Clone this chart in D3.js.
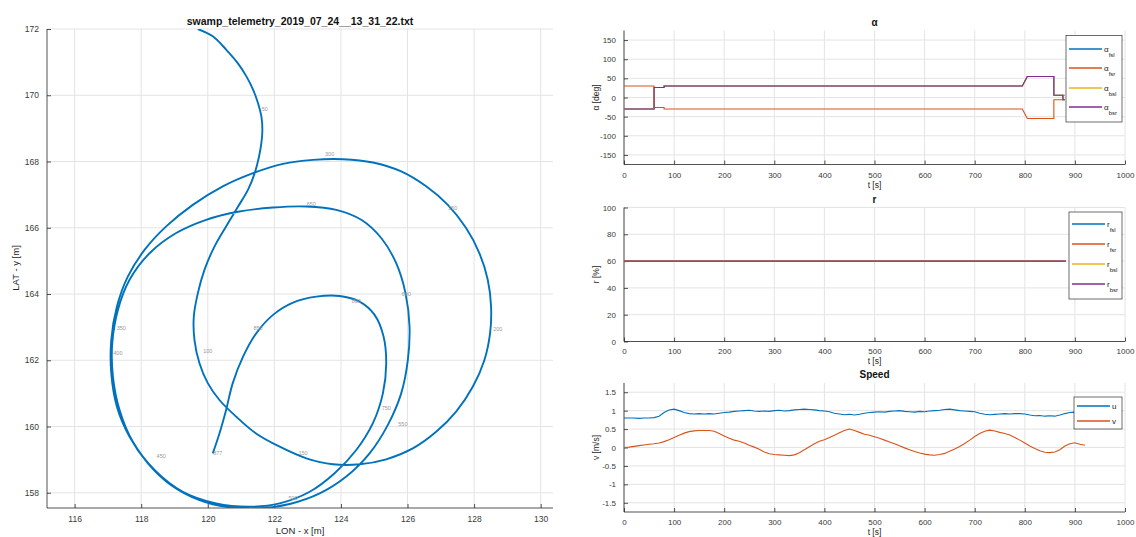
<!DOCTYPE html>
<html>
<head>
<meta charset="utf-8">
<script src="https://cdn.jsdelivr.net/npm/d3@7"></script>
<style>
html, body { margin: 0; padding: 0; background: #fff; }
svg { display: block; font-family: "Liberation Sans", Arial, Helvetica, sans-serif; }
</style>
</head>
<body>
<svg id="fig" width="1136" height="537"></svg>
<script>
// ---- Trajectory (local metric frame) ----
const trajX = [119.70,120.15,120.55,120.90,121.16,121.36,121.51,121.61,121.64,121.61,121.54,121.41,121.21,120.91,120.55,120.20,119.90,119.70,119.58,119.60,119.75,120.00,120.35,120.85,121.45,122.16,122.96,123.76,124.56,125.36,126.16,126.86,127.46,127.96,128.31,128.48,128.51,128.41,128.16,127.76,127.21,126.56,125.81,124.96,124.06,123.16,122.26,121.36,120.45,119.55,118.75,118.10,117.60,117.27,117.10,117.10,117.27,117.65,118.20,118.90,119.75,120.65,121.56,122.46,123.36,124.16,124.86,125.41,125.81,126.01,126.06,125.94,125.66,125.21,124.61,123.86,122.96,121.96,120.95,119.95,119.05,118.25,117.65,117.30,117.13,117.15,117.35,117.75,118.40,119.25,120.25,121.26,122.16,123.06,123.81,124.46,124.96,125.26,125.36,125.28,125.01,124.56,123.96,123.26,122.56,121.96,121.46,121.06,120.75,120.55,120.35,120.15];
const trajY = [172.00,171.78,171.38,170.97,170.57,170.17,169.76,169.36,168.96,168.56,168.15,167.65,167.15,166.64,166.04,165.43,164.73,164.02,163.32,162.61,161.91,161.31,160.80,160.30,159.79,159.39,159.04,158.86,158.86,159.01,159.34,159.84,160.45,161.20,162.01,162.82,163.62,164.43,165.23,165.99,166.69,167.25,167.70,167.97,168.07,168.05,167.93,167.65,167.25,166.69,166.04,165.33,164.53,163.62,162.61,161.61,160.60,159.69,158.89,158.23,157.78,157.56,157.53,157.66,157.98,158.49,159.19,160.05,161.00,162.01,163.02,164.02,164.93,165.69,166.24,166.54,166.64,166.61,166.49,166.24,165.84,165.23,164.43,163.52,162.51,161.51,160.50,159.54,158.69,158.03,157.68,157.58,157.68,158.03,158.59,159.29,160.10,161.00,161.91,162.72,163.37,163.77,163.94,163.92,163.74,163.37,162.82,162.11,161.31,160.50,159.79,159.19];

// time stamps written along the track
const stampX = [121.71,120.00,122.86,128.71,127.36,123.66,117.40,117.30,118.60,122.56,125.86,125.96,123.11,125.36,124.46,121.51,120.30];
const stampY = [169.56,162.26,159.19,162.92,166.59,168.20,162.97,162.21,159.09,157.83,160.05,163.97,166.69,160.55,163.77,162.97,159.19];
const stampText = ["50","100","150","200","250","300","350","400","450","500","550","600","650","750","800","850","877"];

const mapXTicks = [116,118,120,122,124,126,128,130];
const mapYTicks = [158,160,162,164,166,168,170,172];

// ---- Thruster angles [deg] ----
const alphaTime = [0, 60, 60, 80, 80, 795, 805, 858, 858, 876, 876, 880];
const alphaFsl  = [-30,-30, 26, 26, 30, 30, 55, 55, 6, 6, -6, -6];
const alphaFsr  = [ 30, 30,-26,-26,-30,-30,-55,-55,-6,-6, 6, 6];
const alphaBsl  = [-30,-30, 26, 26, 30, 30, 55, 55, 6, 6, -6, -6];
const alphaBsr  = [-30,-30, 26, 26, 30, 30, 55, 55, 6, 6, -6, -6];

// ---- Thruster throttle [%] ----
const thrTime = [0, 882];
const rFsl = [60, 60];
const rFsr = [60, 60];
const rBsl = [60, 60];
const rBsr = [60, 60];

// ---- Speed [m/s] ----
const speedTime = [0,10,20,30,40,50,60,70,80,90,100,110,120,130,140,150,160,170,180,190,200,210,220,230,240,250,260,270,280,290,300,310,320,330,340,350,360,370,380,390,400,410,420,430,440,450,460,470,480,490,500,510,520,530,540,550,560,570,580,590,600,610,620,630,640,650,660,670,680,690,700,710,720,730,740,750,760,770,780,790,800,810,820,830,840,850,860,870,880,890,900,910,920];
const speedU = [0.80,0.80,0.80,0.79,0.80,0.80,0.81,0.85,0.95,1.02,1.04,1.00,0.95,0.92,0.91,0.92,0.91,0.92,0.91,0.93,0.95,0.96,0.98,0.99,1.00,1.01,0.99,0.98,0.99,0.98,1.00,1.01,0.99,1.00,1.02,1.03,1.04,1.03,1.02,1.00,0.99,0.97,0.93,0.91,0.89,0.90,0.88,0.90,0.93,0.95,0.96,0.97,0.96,0.98,0.99,1.00,0.98,0.97,0.96,0.98,0.97,0.99,1.00,1.01,1.03,1.04,1.02,1.00,0.99,0.98,0.97,0.93,0.90,0.89,0.90,0.91,0.92,0.91,0.92,0.92,0.91,0.88,0.86,0.87,0.85,0.86,0.85,0.88,0.92,0.95,0.96,0.95,0.96];
const speedV = [0.00,0.01,0.03,0.05,0.07,0.09,0.10,0.12,0.16,0.21,0.27,0.33,0.39,0.43,0.45,0.46,0.46,0.46,0.44,0.38,0.31,0.25,0.20,0.17,0.12,0.06,0.01,-0.05,-0.12,-0.17,-0.19,-0.20,-0.21,-0.22,-0.20,-0.14,-0.06,0.02,0.10,0.17,0.21,0.27,0.33,0.40,0.46,0.50,0.46,0.41,0.36,0.33,0.29,0.25,0.20,0.15,0.10,0.05,-0.01,-0.06,-0.11,-0.15,-0.18,-0.20,-0.21,-0.19,-0.16,-0.10,-0.04,0.03,0.11,0.20,0.30,0.38,0.44,0.47,0.45,0.41,0.38,0.34,0.27,0.20,0.12,0.04,-0.03,-0.09,-0.13,-0.14,-0.12,-0.06,0.04,0.10,0.13,0.09,0.06];

const timeTicks = [0,100,200,300,400,500,600,700,800,900,1000];

// MATLAB-like line colours
const C = { blue: "#0072BD", orange: "#D95319", yellow: "#EDB120", purple: "#7E2F8E" };
const AX = "#262626", GRID = "#e4e4e4", TICKTXT = "#3a3a3a";

const svg = d3.select("#fig");

function fmt(v) { return String(v); }

// generic axes frame: grid, left+bottom axis lines, inward ticks, labels
function drawFrame(g, x, y, xt, yt, opts) {
  const [x0, x1] = x.range();
  const [y1, y0] = y.range();
  g.append("g").selectAll("line").data(xt).join("line")
    .attr("x1", d => x(d)).attr("x2", d => x(d)).attr("y1", y0).attr("y2", y1)
    .attr("stroke", GRID).attr("stroke-width", 1);
  g.append("g").selectAll("line").data(yt).join("line")
    .attr("y1", d => y(d)).attr("y2", d => y(d)).attr("x1", x0).attr("x2", x1)
    .attr("stroke", GRID).attr("stroke-width", 1);

  const xAxis = d3.axisBottom(x).tickValues(xt).tickSize(-opts.tick).tickPadding(opts.tick + opts.pad).tickFormat(fmt);
  const yAxis = d3.axisLeft(y).tickValues(yt).tickSize(-opts.tick).tickPadding(opts.tick + 4).tickFormat(fmt);
  const gx = g.append("g").attr("transform", `translate(0,${y1})`).call(xAxis);
  const gy = g.append("g").attr("transform", `translate(${x0},0)`).call(yAxis);
  [gx, gy].forEach(a => {
    a.select(".domain").attr("stroke", AX).attr("stroke-width", 0.8);
    a.selectAll(".tick line").attr("stroke", AX).attr("stroke-width", 0.8);
    a.selectAll(".tick text").attr("fill", TICKTXT).style("font-size", opts.fs + "px")
      .style("font-family", "Liberation Sans, Arial, sans-serif");
  });
  gx.select(".domain").attr("d", `M${x0},0H${x1}`);
  gy.select(".domain").attr("d", `M0,${y0}V${y1}`);
}

// ---------------- Trajectory panel ----------------
{
  const x = d3.scaleLinear().domain([115.17, 130.37]).range([47, 553]);
  const y = d3.scaleLinear().domain([157.54, 172.0]).range([508, 29]);
  const g = svg.append("g");
  drawFrame(g, x, y, mapXTicks, mapYTicks, { tick: 4, fs: 8.5, pad: 4 });

  g.append("clipPath").attr("id", "mapclip").append("rect")
    .attr("x", 47).attr("y", 29).attr("width", 506).attr("height", 479);

  const pts = trajX.map((v, i) => [v, trajY[i]]);
  g.append("path")
    .attr("clip-path", "url(#mapclip)")
    .attr("d", d3.line().x(d => x(d[0])).y(d => y(d[1])).curve(d3.curveCatmullRom.alpha(0.5))(pts))
    .attr("fill", "none").attr("stroke", C.blue).attr("stroke-width", 1.9);

  g.append("g").selectAll("text").data(stampText).join("text")
    .attr("x", (d, i) => x(stampX[i])).attr("y", (d, i) => y(stampY[i]))
    .attr("text-anchor", "middle").attr("dominant-baseline", "middle")
    .attr("fill", "#9a9a9a").style("font-size", "5.5px").text(d => d);

  g.append("text").attr("x", 300).attr("y", 25).attr("text-anchor", "middle")
    .style("font-size", "10.5px").style("font-weight", "bold").attr("fill", "#111")
    .text("swamp_telemetry_2019_07_24__13_31_22.txt");
  g.append("text").attr("x", 300).attr("y", 534).attr("text-anchor", "middle")
    .style("font-size", "9.5px").attr("fill", AX).text("LON - x [m]");
  g.append("text").attr("transform", "translate(19,268) rotate(-90)").attr("text-anchor", "middle")
    .style("font-size", "9.5px").attr("fill", AX).text("LAT - y [m]");
}

// ---------------- Time-series panels ----------------
const X0 = 624, X1 = 1125;
const panels = [
  { top: 30.5, bottom: 164.5, dom: [-175, 175], ticks: [-150,-100,-50,0,50,100,150], title: "α", ylab: "α [deg]",
    xlabY: 188, pad: 4,
    series: [
      { t: alphaTime, v: alphaFsl, c: C.blue,   name: "α", sub: "fsl" },
      { t: alphaTime, v: alphaFsr, c: C.orange, name: "α", sub: "fsr" },
      { t: alphaTime, v: alphaBsl, c: C.yellow, name: "α", sub: "bsl" },
      { t: alphaTime, v: alphaBsr, c: C.purple, name: "α", sub: "bsr" } ],
    legend: { x: 1066, y: 35.5, w: 56, h: 86.5, gap: 19.5, first: 13 } },
  { top: 207.5, bottom: 341.5, dom: [0, 100], ticks: [0,20,40,60,80,100], title: "r", ylab: "r [%]",
    xlabY: 364, pad: 3,
    series: [
      { t: thrTime, v: rFsl, c: C.blue,   name: "r", sub: "fsl" },
      { t: thrTime, v: rFsr, c: C.orange, name: "r", sub: "fsr" },
      { t: thrTime, v: rBsl, c: C.yellow, name: "r", sub: "bsl" },
      { t: thrTime, v: rBsr, c: C.purple, name: "r", sub: "bsr" } ],
    legend: { x: 1069, y: 212, w: 53, h: 87, gap: 20, first: 12 } },
  { top: 383, bottom: 512, dom: [-1.75, 1.75], ticks: [-1.5,-1,-0.5,0,0.5,1,1.5], title: "Speed", ylab: "v [m/s]",
    xlabY: 535, pad: 3,
    series: [
      { t: speedTime, v: speedU, c: C.blue,   name: "u", sub: "" },
      { t: speedTime, v: speedV, c: C.orange, name: "v", sub: "" } ],
    legend: { x: 1074, y: 397, w: 48, h: 32, gap: 15, first: 8.5 } }
];

panels.forEach((p, k) => {
  const x = d3.scaleLinear().domain([0, 1000]).range([X0, X1]);
  const y = d3.scaleLinear().domain(p.dom).range([p.bottom, p.top]);
  const g = svg.append("g");
  drawFrame(g, x, y, timeTicks, p.ticks, { tick: 4, fs: 8, pad: p.pad });

  p.series.forEach(s => {
    const pts = s.t.map((t, i) => [t, s.v[i]]);
    g.append("path")
      .attr("d", d3.line().x(d => x(d[0])).y(d => y(d[1]))(pts))
      .attr("fill", "none").attr("stroke", s.c).attr("stroke-width", 1.1);
  });

  g.append("text").attr("x", (X0 + X1) / 2).attr("y", p.top - 5).attr("text-anchor", "middle")
    .style("font-size", "10px").style("font-weight", "bold").attr("fill", "#111").text(p.title);
  g.append("text").attr("x", (X0 + X1) / 2).attr("y", p.xlabY).attr("text-anchor", "middle")
    .style("font-size", "8.5px").attr("fill", AX).text("t [s]");
  g.append("text").attr("transform", `translate(599,${(p.top + p.bottom) / 2}) rotate(-90)`)
    .attr("text-anchor", "middle").style("font-size", "8.5px").attr("fill", AX).text(p.ylab);

  // legend
  const L = p.legend;
  const lg = g.append("g");
  lg.append("rect").attr("x", L.x).attr("y", L.y).attr("width", L.w).attr("height", L.h)
    .attr("fill", "#fff").attr("stroke", "#303030").attr("stroke-width", 0.7);
  p.series.forEach((s, i) => {
    const yy = Math.round(L.y + L.first + i * L.gap);
    lg.append("line").attr("x1", L.x + 3).attr("x2", L.x + 36).attr("y1", yy).attr("y2", yy)
      .attr("stroke", s.c).attr("stroke-width", 1.5);
    const t = lg.append("text").attr("x", L.x + 38).attr("y", yy + 2.5)
      .style("font-size", "8px").attr("fill", "#222");
    t.append("tspan").text(s.name);
    if (s.sub) t.append("tspan").attr("dy", 5).style("font-size", "6px").text(s.sub);
  });
});
</script>
</body>
</html>
